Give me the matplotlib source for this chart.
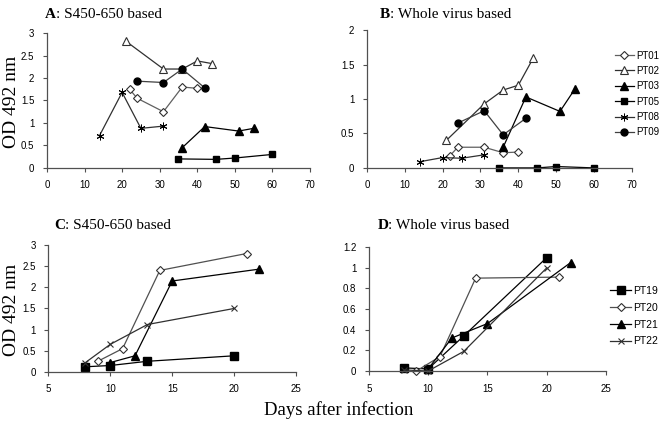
import matplotlib
matplotlib.use("Agg")
from matplotlib import pyplot as plt
from matplotlib.ticker import FuncFormatter

# Panel A / B patients (days after infection, OD 492 nm)
pt01_days = [22, 24, 31, 36, 40]
pt01_a = [1.75, 1.55, 1.25, 1.8, 1.77]
pt01_b = [0.18, 0.3, 0.3, 0.22, 0.23]
pt02_days = [21, 31, 36, 40, 44]
pt02_a = [2.82, 2.2, 2.2, 2.38, 2.32]
pt02_b = [0.4, 0.93, 1.13, 1.2, 1.6]
pt03_days = [36, 42, 51, 55]
pt03_a = [0.45, 0.92, 0.82, 0.88]
pt03_b = [0.3, 1.03, 0.82, 1.15]
pt05_days = [35, 45, 50, 60]
pt05_a = [0.2, 0.19, 0.22, 0.3]
pt05_b = [0.0, 0.0, 0.02, 0.0]
pt08_days = [14, 20, 25, 31]
pt08_a = [0.72, 1.68, 0.88, 0.93]
pt08_b = [0.09, 0.15, 0.14, 0.19]
pt09_days = [24, 31, 36, 42]
pt09_a = [1.93, 1.9, 2.2, 1.78]
pt09_b = [0.65, 0.83, 0.48, 0.72]

# Panel C / D patients
pt19_days = [8, 10, 13, 20]
pt19_c = [0.12, 0.15, 0.25, 0.38]
pt19_d = [0.03, 0.02, 0.34, 1.1]
pt20_days = [9, 11, 14, 21]
pt20_c = [0.25, 0.55, 2.4, 2.8]
pt20_d = [0.0, 0.14, 0.9, 0.91]
pt21_days = [10, 12, 15, 22]
pt21_c = [0.22, 0.38, 2.15, 2.43]
pt21_d = [0.02, 0.32, 0.46, 1.05]
pt22_days = [8, 10, 13, 20]
pt22_c = [0.22, 0.65, 1.12, 1.5]
pt22_d = [0.01, 0.0, 0.19, 1.0]

asterisk = (6, 2, 0)
styles_top = [
    ("PT01", pt01_days, pt01_a, pt01_b, dict(marker="D", mfc="white", mec="#303030", ms=4, mew=0.8, color="#606060")),
    ("PT02", pt02_days, pt02_a, pt02_b, dict(marker="^", mfc="white", mec="#303030", ms=5.5, mew=0.8, color="#303030")),
    ("PT03", pt03_days, pt03_a, pt03_b, dict(marker="^", mfc="black", mec="black", ms=5.5, color="black")),
    ("PT05", pt05_days, pt05_a, pt05_b, dict(marker="s", mfc="black", mec="black", ms=5, color="black")),
    ("PT08", pt08_days, pt08_a, pt08_b, dict(marker=asterisk, mfc="black", mec="black", ms=5.5, mew=0.7, color="#303030")),
    ("PT09", pt09_days, pt09_a, pt09_b, dict(marker="o", mfc="black", mec="black", ms=5, color="#404040")),
]
styles_bot = [
    ("PT19", pt19_days, pt19_c, pt19_d, dict(marker="s", mfc="black", mec="black", ms=6, color="black")),
    ("PT20", pt20_days, pt20_c, pt20_d, dict(marker="D", mfc="white", mec="#303030", ms=4.5, mew=0.8, color="#505050")),
    ("PT21", pt21_days, pt21_c, pt21_d, dict(marker="^", mfc="black", mec="black", ms=6, color="black")),
    ("PT22", pt22_days, pt22_c, pt22_d, dict(marker="x", mfc="black", mec="#303030", ms=5, mew=0.8, color="#303030")),
]

serif = "Liberation Serif"
sans = "Liberation Sans"
fmt = FuncFormatter(lambda v, p: "%g" % v)

fig = plt.figure(figsize=(6.61, 4.24), dpi=100)
axA = fig.add_axes([0.071, 0.604, 0.398, 0.318])
axB = fig.add_axes([0.555, 0.604, 0.401, 0.325])
axC = fig.add_axes([0.073, 0.123, 0.375, 0.299])
axD = fig.add_axes([0.558, 0.125, 0.359, 0.292])


def style_axes(ax, xlim, xticks, ylim, yticks):
    ax.set_xlim(*xlim)
    ax.set_ylim(*ylim)
    ax.set_xticks(xticks)
    ax.set_yticks(yticks)
    ax.xaxis.set_major_formatter(fmt)
    ax.yaxis.set_major_formatter(fmt)
    for s in ["top", "right"]:
        ax.spines[s].set_visible(False)
    for s in ["left", "bottom"]:
        ax.spines[s].set_color("#505050")
        ax.spines[s].set_linewidth(0.9)
    ax.tick_params(direction="out", length=3, width=0.8, color="#505050",
                   labelsize=7, pad=6)
    for lab in ax.get_xticklabels() + ax.get_yticklabels():
        lab.set_family(sans)


lines = []
for name, days, va, vb, st in styles_top:
    axA.plot(days, va, lw=0.9, clip_on=False, **st)
    ln, = axB.plot(days, vb, lw=0.9, clip_on=False, label=name, **st)
    lines.append(ln)
for name, days, vc, vd, st in styles_bot:
    axC.plot(days, vc, lw=0.9, clip_on=False, **st)
    axD.plot(days, vd, lw=0.9, clip_on=False, label=name, **st)

style_axes(axA, (0, 70), range(0, 71, 10), (0, 3), [0, 0.5, 1, 1.5, 2, 2.5, 3])
style_axes(axB, (0, 70), range(0, 71, 10), (0, 2), [0, 0.5, 1, 1.5, 2])
style_axes(axC, (5, 25), range(5, 26, 5), (0, 3), [0, 0.5, 1, 1.5, 2, 2.5, 3])
style_axes(axD, (5, 25), range(5, 26, 5), (0, 1.2), [0, 0.2, 0.4, 0.6, 0.8, 1, 1.2])

titles = [(axA, "A", ": S450-650 based", 0.068, 0.965),
          (axB, "B", ": Whole virus based", 0.574, 0.965),
          (axC, "C", ": S450-650 based", 0.082, 0.468),
          (axD, "D", ": Whole virus based", 0.571, 0.468)]
for ax, letter, rest, x, y in titles:
    t = fig.text(x, y, letter, family=serif, fontsize=11, fontweight="bold", va="center")
    fig.canvas.draw()
    bb = t.get_window_extent()
    fig.text(bb.x1 / fig.bbox.width, y, rest, family=serif, fontsize=11, va="center")

fig.text(0.018, 0.76, "OD 492 nm", family=serif, fontsize=14, rotation=90, va="center", ha="center")
fig.text(0.018, 0.27, "OD 492 nm", family=serif, fontsize=14, rotation=90, va="center", ha="center")
fig.text(0.513, 0.033, "Days after infection", family=serif, fontsize=13.5, va="center", ha="center")

leg1 = axB.legend(handles=lines, loc="upper left", bbox_to_anchor=(0.92, 0.88),
                  frameon=False, prop={"family": sans, "size": 7},
                  handlelength=2.0, handletextpad=0.2, labelspacing=0.55, borderaxespad=0)
leg2 = axD.legend(loc="upper left", bbox_to_anchor=(1.0, 0.72),
                  frameon=False, prop={"family": sans, "size": 7.5},
                  handlelength=2.0, handletextpad=0.2, labelspacing=0.65, borderaxespad=0)

fig.savefig("out.png", dpi=100)
